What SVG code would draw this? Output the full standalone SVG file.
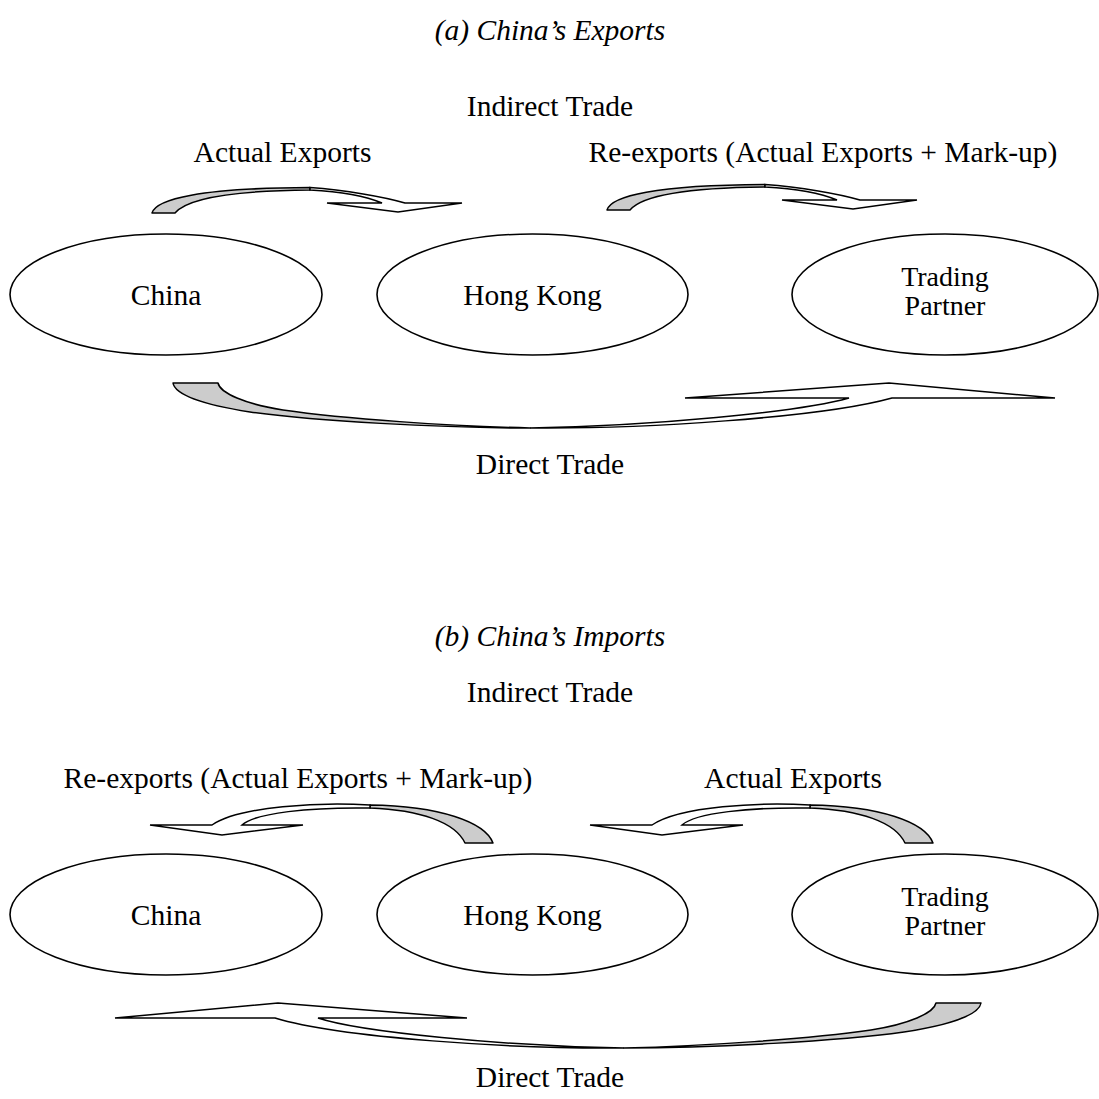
<svg xmlns="http://www.w3.org/2000/svg" width="1099" height="1099" viewBox="0 0 1099 1099">
  <style>
    text { font-family: "Liberation Serif", "Times New Roman", serif; font-size: 29.5px; fill: #000; text-anchor: middle; }
    .title { font-style: italic; }
    .two { font-size: 28px; }
    .node ellipse { fill: #fff; stroke: #000; stroke-width: 1.6; }
    .back { fill: #cccccc; stroke: #000; stroke-width: 1.5; stroke-linejoin: round; }
    .front { fill: #fff; stroke: #000; stroke-width: 1.5; stroke-linejoin: miter; }
  </style>
  <defs>
    <!-- curved arrow arching over, head pointing down-right -->
    <g id="overRight">
      <path class="back" d="M152,213 C156,199 200,188 310,187.5 L310,190 C255,190.5 190,195 175,213 Z"/>
      <path class="front" d="M310,187.5 C345,190 385,197 405,203 L462,203 L398,212 L327,203 L382,203 C370,198 345,192 310,190 Z"/>
    </g>
    <!-- curved arrow arching over, head pointing down-left -->
    <g id="overLeft">
      <path class="back" d="M465,843 L493,843 C485,822 440,806 370,805 L370,808 C420,810 455,822 465,843 Z"/>
      <path class="front" d="M370,805 C320,802 240,806 212,825 L150,825 L222,835 L303,825 L242,825 C255,813 310,807 370,808 Z"/>
    </g>
  </defs>
  <rect width="1099" height="1099" fill="#fff"/>

  <!-- (a) exports -->
  <text class="title" x="550" y="40">(a) China’s Exports</text>
  <text x="550" y="116">Indirect Trade</text>
  <text x="282.5" y="162">Actual Exports</text>
  <text x="823" y="162">Re-exports (Actual Exports + Mark-up)</text>
  <text x="550" y="474">Direct Trade</text>

  <g id="a-china" class="node">
    <ellipse cx="166" cy="294.5" rx="156" ry="60.5"/>
    <text x="166" y="304.5">China</text>
  </g>
  <g id="a-hongkong" class="node">
    <ellipse cx="532.5" cy="294.5" rx="155.5" ry="60.5"/>
    <text x="532.5" y="304.5">Hong Kong</text>
  </g>
  <g id="a-partner" class="node">
    <ellipse cx="945" cy="294.5" rx="153" ry="60.5"/>
    <text class="two" x="945" y="286">Trading</text>
    <text class="two" x="945" y="315">Partner</text>
  </g>

  <!-- (b) imports -->
  <text class="title" x="550" y="646">(b) China’s Imports</text>
  <text x="550" y="702">Indirect Trade</text>
  <text x="298" y="788">Re-exports (Actual Exports + Mark-up)</text>
  <text x="793" y="788">Actual Exports</text>
  <text x="550" y="1087">Direct Trade</text>

  <g id="b-china" class="node">
    <ellipse cx="166" cy="914.5" rx="156" ry="60.5"/>
    <text x="166" y="924.5">China</text>
  </g>
  <g id="b-hongkong" class="node">
    <ellipse cx="532.5" cy="914.5" rx="155.5" ry="60.5"/>
    <text x="532.5" y="924.5">Hong Kong</text>
  </g>
  <g id="b-partner" class="node">
    <ellipse cx="945" cy="914.5" rx="153" ry="60.5"/>
    <text class="two" x="945" y="906">Trading</text>
    <text class="two" x="945" y="935">Partner</text>
  </g>

  <g id="connectors">
    <!-- (a) China -> Hong Kong, Hong Kong -> Trading Partner -->
    <use href="#overRight"/>
    <use href="#overRight" transform="translate(455,-3)"/>
    <!-- (a) China -> Trading Partner, direct -->
    <g id="a-direct">
      <path class="back" d="M173,383 C175,395 205,405 250,412 C315,421 440,428 530,428 C450,426 345,419 283,410 C245,404 220,393 218,383 Z"/>
      <path class="front" d="M530,428 C640,429 820,418 892,398 L1055,398 L889,383 L685,398 L849,398 C800,412 650,426 530,428 Z"/>
    </g>
    <!-- (b) Hong Kong -> China, Trading Partner -> Hong Kong -->
    <use href="#overLeft"/>
    <use href="#overLeft" transform="translate(440,0)"/>
    <!-- (b) Trading Partner -> China, direct -->
    <g id="b-direct">
      <path class="back" d="M981,1003 C979,1015 949,1025 904,1032 C839,1041 714,1048 624,1048 C704,1046 809,1039 871,1030 C909,1024 934,1013 936,1003 Z"/>
      <path class="front" d="M624,1048 C514,1049 340,1038 275,1018 L115,1018 L278,1003 L467,1018 L318,1018 C360,1032 504,1046 624,1048 Z"/>
    </g>
  </g>
</svg>
